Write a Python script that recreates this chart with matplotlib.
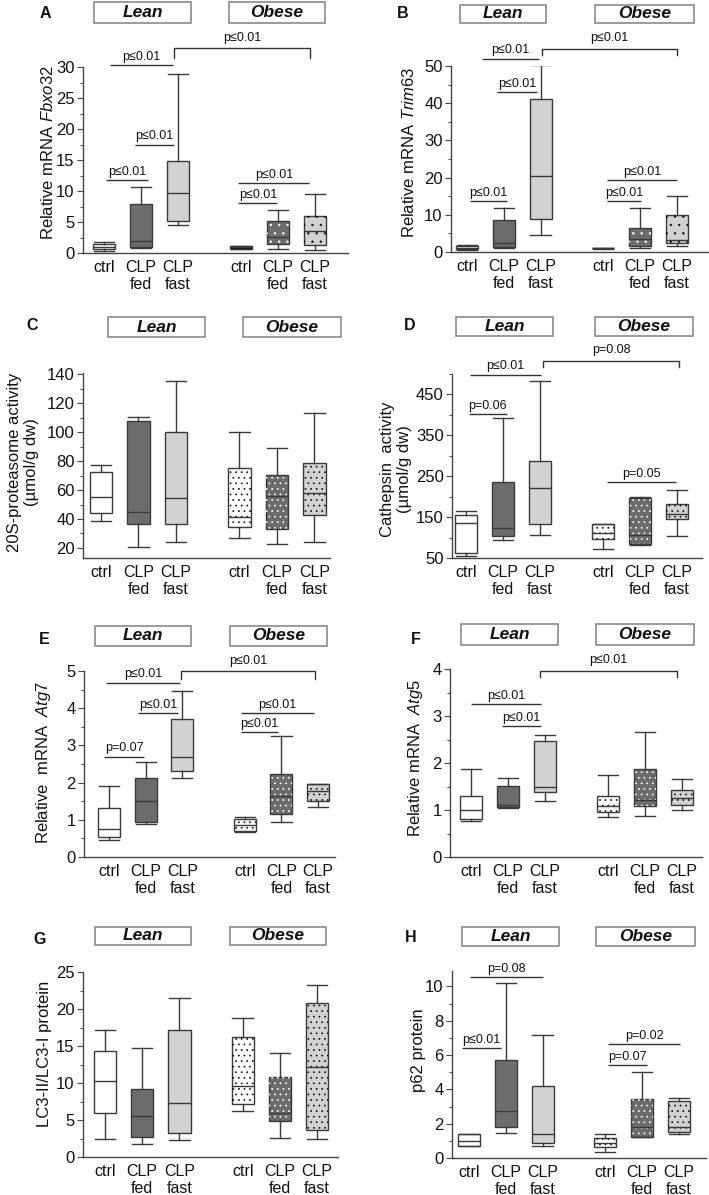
import matplotlib
matplotlib.use("Agg")
import matplotlib.pyplot as plt
from matplotlib.patches import Rectangle, PathPatch
from matplotlib.ticker import MultipleLocator

plt.rcParams['font.family'] = ['Liberation Sans', 'DejaVu Sans']
plt.rcParams['mathtext.fontset'] = 'custom'
plt.rcParams['mathtext.rm'] = 'Liberation Sans'
plt.rcParams['mathtext.it'] = 'Liberation Sans:italic'
plt.rcParams['mathtext.bf'] = 'Liberation Sans:bold'
plt.rcParams['hatch.linewidth'] = 0.5

# ---------------- data ----------------
groups = ["Lean", "Obese"]
tick_labels = ["ctrl", "CLP\nfed", "CLP\nfast", "ctrl", "CLP\nfed", "CLP\nfast"]
positions = [1, 2, 3, 4.7, 5.7, 6.7]

# each box: [whisker low, q1, median, q3, whisker high]
fbxo32 = [[0.4, 0.6, 1.0, 1.4, 1.7],
          [0.8, 0.9, 2.0, 7.9, 10.6],
          [4.5, 5.2, 9.7, 14.9, 28.9],
          [0.6, 0.7, 0.9, 1.1, 1.2],
          [0.6, 1.4, 2.6, 5.2, 7.0],
          [0.5, 1.3, 3.5, 5.9, 9.5]]
trim63 = [[0.5, 0.7, 1.0, 1.5, 1.8],
          [1.0, 1.3, 2.5, 8.5, 11.8],
          [4.5, 8.9, 20.4, 41.2, 50.2],
          [0.9, 0.95, 1.0, 1.1, 1.15],
          [1.0, 1.7, 3.5, 6.4, 11.8],
          [1.6, 2.4, 3.3, 9.9, 15.1]]
proteasome = [[38.8, 44.4, 55.3, 72.2, 77.5],
              [20.5, 36.7, 45.1, 107.7, 110.5],
              [24.2, 36.2, 54.8, 100.5, 135.5],
              [26.7, 34.4, 41.4, 75.2, 100.5],
              [22.5, 33.2, 56.0, 70.3, 88.9],
              [24.2, 42.5, 57.8, 78.5, 113.5]]
cathepsin = [[54, 62, 135, 155, 164],
             [95, 103, 123, 237, 392],
             [107, 133, 222, 287, 484],
             [72, 96, 111, 133, 133],
             [82, 84, 107, 196, 199],
             [103, 145, 158, 183, 216]]
atg7 = [[0.45, 0.54, 0.75, 1.32, 1.90],
        [0.88, 0.93, 1.50, 2.12, 2.55],
        [2.13, 2.30, 2.68, 3.72, 4.47],
        [0.68, 0.70, 0.87, 1.02, 1.08],
        [0.95, 1.15, 1.64, 2.22, 3.25],
        [1.34, 1.50, 1.78, 1.95, 1.95]]
atg5 = [[0.76, 0.81, 0.99, 1.30, 1.88],
        [1.04, 1.06, 1.10, 1.52, 1.68],
        [1.20, 1.38, 1.50, 2.46, 2.60],
        [0.85, 0.96, 1.08, 1.29, 1.75],
        [0.87, 1.09, 1.22, 1.87, 2.67],
        [1.00, 1.10, 1.26, 1.42, 1.65]]
lc3 = [[2.5, 6.0, 10.3, 14.3, 17.1],
       [1.7, 2.7, 5.6, 9.2, 14.7],
       [2.3, 3.2, 7.3, 17.1, 21.5],
       [6.2, 7.1, 9.6, 16.2, 18.8],
       [2.6, 4.8, 5.9, 10.8, 14.1],
       [2.5, 3.6, 12.1, 20.8, 23.3]]
p62 = [[0.70, 0.70, 1.00, 1.39, 1.39],
       [1.45, 1.82, 2.72, 5.73, 10.2],
       [0.68, 0.88, 1.41, 4.17, 7.18],
       [0.35, 0.65, 0.90, 1.19, 1.37],
       [1.21, 1.21, 1.82, 3.44, 5.03],
       [1.37, 1.49, 1.82, 3.31, 3.48]]

# significance lines: (x1, x2, y, label); brackets: (x1, x2, y, y_tip, label)
sig_A = [(1.05, 2.2, 11.8, "p≤0.01"), (1.85, 2.89, 17.5, "p≤0.01"),
         (1.16, 2.87, 30.3, "p≤0.01"), (4.63, 5.68, 8.0, "p≤0.01"),
         (4.63, 6.55, 11.25, "p≤0.01")]
br_A = [(2.89, 6.57, 33.0, 31.5, "p≤0.01")]
sig_B = [(1.08, 2.08, 13.7, "p≤0.01"), (1.82, 2.89, 43.0, "p≤0.01"),
         (1.42, 2.96, 52.0, "p≤0.01"), (4.81, 5.74, 13.7, "p≤0.01"),
         (4.81, 6.70, 19.4, "p≤0.01")]
br_B = [(3.05, 6.70, 54.5, 53.0, "p≤0.01")]
sig_C, br_C = [], []
sig_D = [(1.08, 2.1, 403, "p=0.06"), (1.11, 3.02, 498.7, "p≤0.01"),
         (4.8, 6.69, 235, "p=0.05")]
br_D = [(3.08, 6.76, 532.7, 518, "p=0.08")]
sig_E = [(0.87, 1.95, 2.70, "p=0.07"), (1.78, 2.89, 3.875, "p≤0.01"),
         (0.92, 2.93, 4.69, "p≤0.01"), (4.59, 5.62, 3.35, "p≤0.01"),
         (4.59, 6.59, 3.875, "p≤0.01")]
br_E = [(2.96, 6.61, 4.99, 4.79, "p≤0.01")]
sig_F = [(1.01, 2.88, 3.26, "p≤0.01"), (1.83, 2.88, 2.79, "p≤0.01")]
br_F = [(2.86, 6.56, 3.96, 3.83, "p≤0.01")]
sig_G, br_G = [], []
sig_H = [(0.82, 1.86, 6.42, "p≤0.01"), (1.03, 3.02, 10.53, "p=0.08"),
         (4.78, 5.85, 5.4, "p=0.07"), (4.78, 6.73, 6.65, "p=0.02")]
br_H = []

# ---------------- styles ----------------
EDGE = "#3a3a3a"
LINE = "#333333"
face_colors = ["white", "#6c6c6c", "#d2d2d2", "white", "#6c6c6c", "#d2d2d2"]
dot_colors = [None, None, None, "#111111", "white", "#111111"]

W, H = 709, 1195
fig = plt.figure(figsize=(W / 100, H / 100), dpi=100)
fig.patch.set_facecolor("white")


def fx(x):
    return x / W


def fy(y):
    return 1 - y / H


panels = [
    dict(letter="A", data=fbxo32, box=(83, 67, 348, 253), ylim=(0, 30), xlim=(0.432, 7.59),
         major=5, minor=2.5, ylabel="Relative mRNA $\\mathit{Fbxo32}$", ylab=(56, 153),
         lean=(94, 191), obese=(229, 325), hy=(2, 23), lxy=(45, 13), sig=sig_A, br=br_A,
         override={3: "black"}, hatch=".."),
    dict(letter="B", data=trim63, box=(451, 66, 709, 252), ylim=(0, 50), xlim=(0.565, 7.58),
         major=10, minor=5, ylabel="Relative mRNA $\\mathit{Trim63}$", ylab=(417, 152),
         lean=(460, 546), obese=(595, 694), hy=(5, 23), lxy=(403, 13), sig=sig_B, br=br_B,
         override={3: "black"}, hatch=".."),
    dict(letter="C", data=proteasome, box=(83, 373, 330, 558), ylim=(13, 141), xlim=(0.52, 7.12),
         major=20, minor=10, ylabel="20S-proteasome activity\n(µmol/g dw)", ylab=(39, 462),
         lean=(108, 205), obese=(243, 341), hy=(317, 337), lxy=(32, 326), sig=sig_C, br=br_C,
         override={}, hatch="..."),
    dict(letter="D", data=cathepsin, box=(452, 374, 702, 558), ylim=(50, 500), xlim=(0.62, 7.38),
         major=100, minor=50, ylabel="Cathepsin  activity\n(µmol/g dw)", ylab=(412, 469),
         lean=(456, 553), obese=(595, 693), hy=(317, 336), lxy=(410, 326), sig=sig_D, br=br_D,
         override={}, hatch="..."),
    dict(letter="E", data=atg7, box=(84, 671, 335, 857), ylim=(0, 5), xlim=(0.32, 7.16),
         major=1, minor=0.5, ylabel="Relative  mRNA  $\\mathit{Atg7}$", ylab=(53, 763),
         lean=(95, 191), obese=(230, 327), hy=(626, 646), lxy=(44, 639), sig=sig_E, br=br_E,
         override={}, hatch="..."),
    dict(letter="F", data=atg5, box=(450, 669, 702, 857), ylim=(0, 4), xlim=(0.43, 7.24),
         major=1, minor=0.5, ylabel="Relative mRNA  $\\mathit{Atg5}$", ylab=(425, 758),
         lean=(461, 558), obese=(596, 694), hy=(624, 645), lxy=(416, 639), sig=sig_F, br=br_F,
         override={}, hatch="..."),
    dict(letter="G", data=lc3, box=(83, 972, 338, 1157), ylim=(0, 25), xlim=(0.41, 7.26),
         major=5, minor=2.5, ylabel="LC3-II/LC3-I protein", ylab=(52, 1054),
         lean=(95, 191), obese=(230, 326), hy=(927, 945), lxy=(40, 940), sig=sig_G, br=br_G,
         override={}, hatch="..."),
    dict(letter="H", data=p62, box=(452, 971, 706, 1158), ylim=(0, 10.9), xlim=(0.54, 7.44),
         major=2, minor=1, ylabel="p62 protein", ylab=(426, 1050),
         lean=(462, 559), obese=(596, 695), hy=(927, 946), lxy=(411, 937), sig=sig_H, br=br_H,
         override={}, hatch="..."),
]

for p in panels:
    l, t, r, b = p["box"]
    ax = fig.add_axes([fx(l), fy(b), (r - l) / W, (b - t) / H])
    stats = []
    for vals, lab in zip(p["data"], tick_labels):
        lo, q1, med, q3, hi = vals
        stats.append(dict(whislo=lo, q1=q1, med=med, q3=q3, whishi=hi, fliers=[], label=lab))
    res = ax.bxp(stats, positions=positions, widths=0.6, capwidths=0.55,
                 patch_artist=True, showfliers=False,
                 boxprops=dict(edgecolor=EDGE, linewidth=1.0),
                 whiskerprops=dict(color=EDGE, linewidth=1.0),
                 capprops=dict(color=EDGE, linewidth=1.0),
                 medianprops=dict(color=EDGE, linewidth=1.0, zorder=4))
    for i, bx in enumerate(res["boxes"]):
        fc = p["override"].get(i, face_colors[i])
        bx.set_facecolor(fc)
        if dot_colors[i] is not None and i not in p["override"]:
            ov = PathPatch(bx.get_path(), transform=ax.transData, facecolor="none",
                           edgecolor=dot_colors[i], linewidth=0, hatch=p["hatch"], zorder=2.5)
            ax.add_patch(ov)
    ax.set_xlim(*p["xlim"])
    ax.set_ylim(*p["ylim"])
    ax.yaxis.set_major_locator(MultipleLocator(p["major"]))
    ax.yaxis.set_minor_locator(MultipleLocator(p["minor"]))
    if p["letter"] == "D":
        ax.set_yticks([50, 150, 250, 350, 450])
    for s in ["top", "right"]:
        ax.spines[s].set_visible(False)
    for s in ["left", "bottom"]:
        ax.spines[s].set_color("#444444")
        ax.spines[s].set_linewidth(1.0)
    ax.tick_params(axis="y", which="major", length=4, width=0.8, direction="out",
                   labelsize=12, pad=2, colors="#444444", labelcolor="#111111")
    ax.tick_params(axis="y", which="minor", length=2, width=0.7, direction="out",
                   colors="#444444")
    ax.tick_params(axis="x", length=0, labelsize=11.5, pad=5, labelcolor="#111111")
    ax.set_ylabel(p["ylabel"], fontsize=12, color="#111111")
    lx, ly = p["ylab"]
    ax.yaxis.set_label_coords((lx - l) / (r - l), (b - ly) / (b - t))
    ax.set_facecolor("none")

    for x1, x2, y, s in p["sig"]:
        ax.plot([x1, x2], [y, y], color=LINE, lw=1.0, clip_on=False,
                solid_capstyle="butt")
        ax.annotate(s, xy=((x1 + x2) / 2, y), xytext=(0, 1.5), textcoords="offset points",
                    ha="center", va="bottom", fontsize=9, color="#111111",
                    annotation_clip=False)
    for x1, x2, y, yt, s in p["br"]:
        ax.plot([x1, x1, x2, x2], [yt, y, y, yt], color=LINE, lw=1.0, clip_on=False)
        ax.annotate(s, xy=((x1 + x2) / 2, y), xytext=(0, 3.5), textcoords="offset points",
                    ha="center", va="bottom", fontsize=9, color="#111111",
                    annotation_clip=False)

    # group header boxes
    y0, y1 = p["hy"]
    for (x0, x1b), g in zip([p["lean"], p["obese"]], groups):
        rect = Rectangle((fx(x0), fy(y1)), (x1b - x0) / W, (y1 - y0) / H,
                         transform=fig.transFigure, facecolor="white",
                         edgecolor="#8a8a8a", linewidth=1.2)
        fig.add_artist(rect)
        fig.text(fx((x0 + x1b) / 2), fy((y0 + y1) / 2), g, ha="center", va="center",
                 fontsize=12.5, fontweight="bold", fontstyle="italic", color="#111111")
    fig.text(fx(p["lxy"][0]), fy(p["lxy"][1]), p["letter"], ha="center", va="center",
             fontsize=11.5, fontweight="bold", color="#111111")

fig.savefig("out.png", dpi=100)
